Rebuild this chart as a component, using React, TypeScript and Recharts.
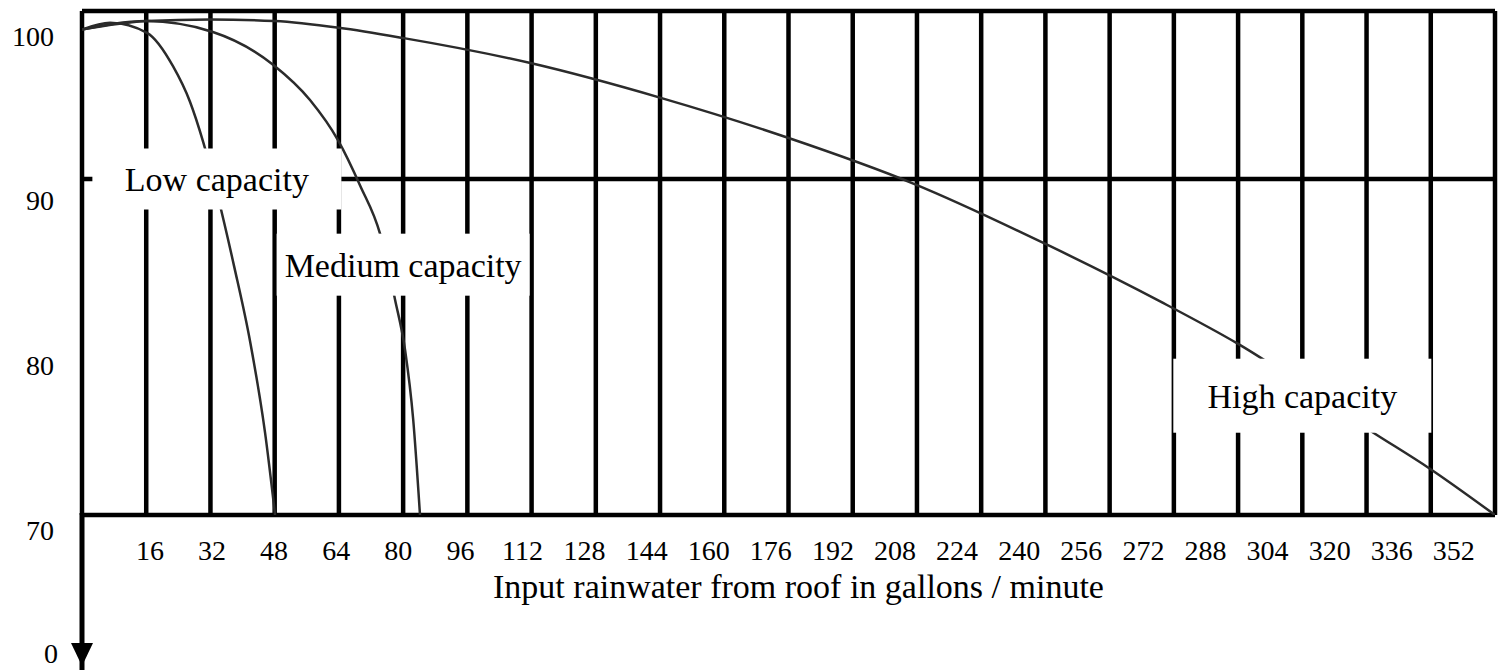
import { LineChart, Line, XAxis, YAxis, CartesianGrid, ReferenceDot } from "recharts"

// flow in gallons / minute, efficiency in %
const xTicks = [16, 32, 48, 64, 80, 96, 112, 128, 144, 160, 176, 192, 208, 224, 240, 256, 272, 288, 304, 320, 336, 352]
const yTicks = [70, 80, 90, 100]
const yGridValues = [70, 90, 100]

const lowFlow = [0, 7, 16.2, 22.7, 26.9, 30.2, 33.9, 37.9, 41.9, 45.6, 48.1]
const lowEff = [98.9, 99.3, 98.7, 96.7, 94.6, 92.2, 88.9, 84.8, 80.3, 74.9, 70]

const mediumFlow = [0, 16, 32.6, 47.6, 56.8, 63.8, 69.3, 74.3, 78, 80.5, 82.5, 84.2]
const mediumEff = [98.9, 99.4, 98.75, 96.8, 94.7, 92.3, 89.6, 86.7, 82.8, 79.8, 75.7, 70]

const highFlow = [0, 16, 32, 48, 64, 79.8, 111.7, 144.6, 175.3, 207.4, 241.2, 268.7, 287.9, 321.7, 335.5, 352]
const highEff = [98.9, 99.4, 99.5, 99.4, 99.0, 98.4, 96.9, 94.8, 92.5, 89.7, 86.0, 82.7, 80.2, 74.9, 72.8, 70]

const curveNames = ["Low capacity", "Medium capacity", "High capacity"]
const nameFlow = [33.6, 80, 304]
const nameEff = [90, 84.9, 77.1]

const toRows = (xs: number[], ys: number[]) => xs.map((x, i) => ({ flow: x, eff: ys[i] }))
const lowData = toRows(lowFlow, lowEff)
const mediumData = toRows(mediumFlow, mediumEff)
const highData = toRows(highFlow, highEff)

const serif = "'Liberation Serif', 'Times New Roman', serif"
const curveColor = "#2b2b2b"

const W = 1502
const H = 670
const PLOT_LEFT = 82
const PLOT_RIGHT = 7
const PLOT_W = W - PLOT_LEFT - PLOT_RIGHT
// the printed x labels drift a little from the grid lines: they follow a slightly wider scale
const LABEL_DOMAIN = [-1.5, 362.6]

// white box behind each curve name: [width, height]
const boxSize: Record<string, [number, number]> = {
  "Low capacity": [249, 61],
  "Medium capacity": [253, 62],
  "High capacity": [258, 74],
}

function NameBox({ cx, cy, name }: { cx?: number; cy?: number; name: string }) {
  if (cx == null || cy == null) return null
  const [w, h] = boxSize[name]
  return (
    <g>
      <rect x={cx - w / 2} y={cy - h / 2} width={w} height={h} fill="#fff" />
      <text x={cx} y={cy + 12} textAnchor="middle" fontSize={34} fontFamily={serif} fill="#000">
        {name}
      </text>
    </g>
  )
}

function FlowTick({ y, payload }: any) {
  const v = payload.value
  const lx = PLOT_LEFT + ((v - LABEL_DOMAIN[0]) / (LABEL_DOMAIN[1] - LABEL_DOMAIN[0])) * PLOT_W
  return (
    <text x={lx} y={y + 43} textAnchor="middle" fontSize={28} fontFamily={serif} fill="#000">
      {v}
    </text>
  )
}

export default function App() {
  return (
    <div style={{ position: "absolute", left: 0, top: 0, width: W, height: H, background: "#fff" }}>
      <LineChart width={W} height={H} margin={{ top: 11, right: PLOT_RIGHT, bottom: 0, left: 0 }}>
        <CartesianGrid
          horizontalValues={yGridValues}
          verticalValues={[0, ...xTicks]}
          stroke="#000"
          strokeWidth={4.5}
        />
        <XAxis
          dataKey="flow"
          type="number"
          domain={[0, 352]}
          allowDataOverflow
          ticks={xTicks}
          interval={0}
          axisLine={false}
          tickLine={false}
          tickSize={0}
          height={155}
          tick={<FlowTick />}
          label={{
            value: "Input rainwater from roof in gallons / minute",
            position: "insideBottom",
            offset: 72,
            dx: 10,
            fill: "#000",
            fontSize: 34,
            fontFamily: serif,
          }}
        />
        {/* y labels also sit a little off their grid lines, so they get their own scale */}
        <YAxis
          yAxisId="labels"
          type="number"
          domain={[70.9, 101.5]}
          allowDataOverflow
          ticks={yTicks}
          interval={0}
          axisLine={false}
          tickLine={false}
          tickSize={0}
          tickMargin={28}
          width={PLOT_LEFT}
          tick={{ fill: "#000", fontSize: 28, fontFamily: serif }}
        />
        <YAxis type="number" domain={[70, 100]} allowDataOverflow hide width={0} />
        <Line data={lowData} dataKey="eff" type="monotone" stroke={curveColor} strokeWidth={2.5} dot={false} isAnimationActive={false} />
        <Line data={mediumData} dataKey="eff" type="monotone" stroke={curveColor} strokeWidth={2.5} dot={false} isAnimationActive={false} />
        <Line data={highData} dataKey="eff" type="monotone" stroke={curveColor} strokeWidth={2.5} dot={false} isAnimationActive={false} />
        {curveNames.map((name, i) => (
          <ReferenceDot
            key={name}
            x={nameFlow[i]}
            y={nameEff[i]}
            r={0}
            shape={(p: any) => <NameBox cx={p.cx} cy={p.cy} name={name} />}
          />
        ))}
      </LineChart>
      {/* y axis continues below the 70 line down to 0 */}
      <svg width={W} height={H} style={{ position: "absolute", left: 0, top: 0, pointerEvents: "none" }}>
        <line x1={82} y1={513} x2={82} y2={670} stroke="#000" strokeWidth={5} />
        <polygon points="71,643 93,643 82,666" fill="#000" />
        <text x={58} y={663} textAnchor="end" style={{ fontSize: 28, fontFamily: serif }} fill="#000">
          0
        </text>
      </svg>
    </div>
  )
}
